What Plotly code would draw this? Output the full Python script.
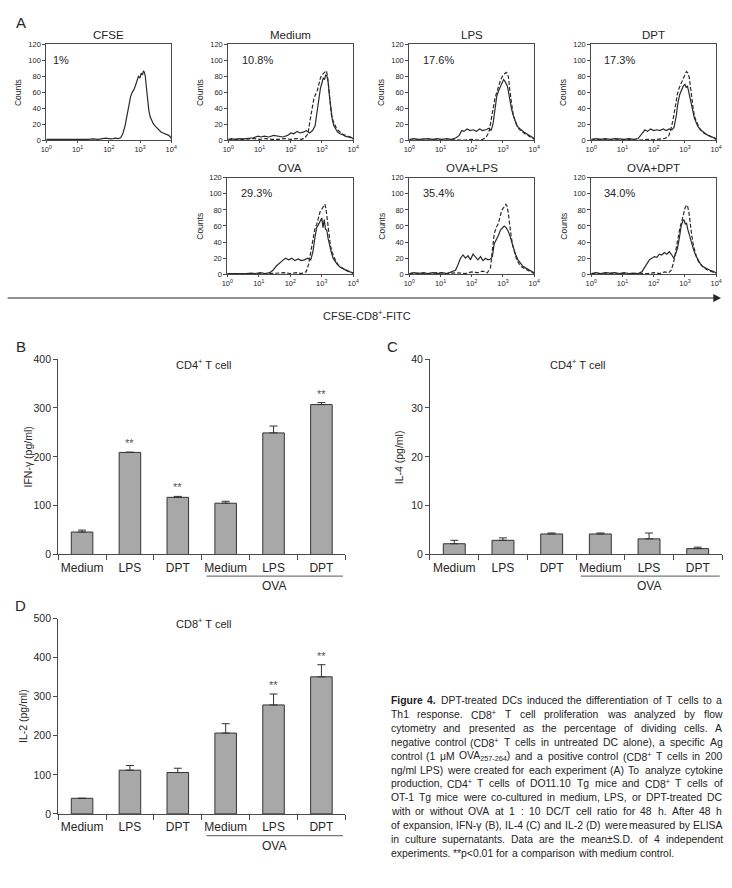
import re
import plotly.graph_objects as go

W, H = 732, 888
FONT = "Liberation Sans, Arial, Helvetica, sans-serif"
INK = "#262626"
AXC = "#4a4a4a"

# ---------------- Panel A: flow-cytometry histograms ----------------
# (log10 fluorescence, counts) pairs
CFSE_SOLID = [(0.00,1),(0.15,1),(0.30,1),(0.45,0.5),(0.60,1),(0.75,1),(0.90,0.5),(1.05,1),(1.20,1),(1.35,1),
              (1.50,1.5),(1.65,1),(1.80,2),(1.90,2.5),(2.00,2),(2.10,1.5),(2.20,2.5),(2.30,2),(2.38,3),(2.45,8),
              (2.52,18),(2.58,30),(2.64,40),(2.70,55),(2.75,60),(2.80,63),(2.85,68),(2.90,74),(2.95,80),(3.00,78),
              (3.04,84),(3.08,82),(3.11,87),(3.14,85),(3.17,80),(3.20,68),(3.24,52),(3.28,38),(3.32,30),(3.37,25),
              (3.42,21),(3.48,18),(3.55,15),(3.62,12),(3.68,10),(3.74,9),(3.80,8),(3.86,7),(3.92,6),(3.97,4),(4.00,2)]

MED_SOLID = [(0.00,1),(0.10,2),(0.20,1),(0.35,2),(0.50,1.5),(0.65,2),(0.80,3),(0.95,5),(1.05,4),(1.15,5),
             (1.30,4),(1.45,6),(1.60,5),(1.75,4),(1.90,6),(2.00,9),(2.10,8),(2.20,11),(2.30,9),(2.40,10),
             (2.50,12),(2.60,9),(2.70,12),(2.78,18),(2.84,35),(2.90,55),(2.95,65),(3.00,72),(3.04,78),(3.08,76),
             (3.12,82),(3.16,80),(3.20,72),(3.24,55),(3.28,38),(3.33,26),(3.38,18),(3.44,13),(3.50,10),(3.58,8),
             (3.66,7),(3.74,5),(3.82,4),(3.90,4),(3.96,3),(4.00,2)]
MED_DASH = [(0.00,0.5),(0.20,1),(0.40,0.5),(0.60,1),(0.80,2),(1.00,1),(1.20,2),(1.40,1),(1.60,1),(1.80,2),
            (2.00,1),(2.20,2),(2.35,1),(2.45,3),(2.55,8),(2.62,25),(2.68,40),(2.74,52),(2.80,58),(2.85,62),
            (2.90,70),(2.95,78),(3.00,82),(3.05,84),(3.10,86),(3.14,87),(3.18,80),(3.22,60),(3.26,42),(3.30,32),
            (3.35,25),(3.40,20),(3.46,15),(3.52,12),(3.60,9),(3.68,7),(3.76,6),(3.84,5),(3.92,3),(4.00,1)]

LPS_SOLID = [(0.00,1),(0.15,2),(0.30,1),(0.45,1.5),(0.60,2),(0.75,1),(0.90,2),(1.05,1),(1.20,2),(1.35,1),
             (1.50,3),(1.60,6),(1.68,12),(1.75,11),(1.85,14),(1.95,12),(2.05,13),(2.15,11),(2.25,14),(2.35,12),
             (2.45,13),(2.55,15),(2.62,12),(2.68,20),(2.74,40),(2.80,55),(2.86,62),(2.92,68),(2.97,72),(3.02,76),
             (3.06,74),(3.10,70),(3.14,68),(3.18,60),(3.22,50),(3.27,40),(3.32,32),(3.38,24),(3.45,18),(3.52,15),
             (3.60,12),(3.68,10),(3.76,8),(3.84,6),(3.92,4),(4.00,2)]
LPS_DASH = [(0.00,0),(0.30,0.5),(0.60,0),(0.90,0.5),(1.20,0),(1.50,0.5),(1.80,0),(2.00,1),(2.20,0),(2.35,1),
            (2.45,3),(2.55,10),(2.62,25),(2.68,40),(2.74,52),(2.80,60),(2.86,68),(2.92,75),(2.98,80),(3.04,82),
            (3.10,85),(3.14,84),(3.18,78),(3.22,62),(3.27,46),(3.32,34),(3.38,25),(3.45,18),(3.52,14),(3.60,11),
            (3.70,8),(3.80,6),(3.90,4),(4.00,1)]

DPT_SOLID = [(0.00,1),(0.15,2),(0.30,1),(0.45,2),(0.60,1),(0.75,2),(0.90,1.5),(1.05,1),(1.20,2),(1.35,1),
             (1.50,2),(1.58,6),(1.65,10),(1.72,13),(1.80,11),(1.90,14),(2.00,12),(2.10,13),(2.20,12),(2.30,14),
             (2.40,12),(2.50,14),(2.58,13),(2.65,16),(2.72,30),(2.78,48),(2.84,58),(2.90,64),(2.95,68),(3.00,70),
             (3.04,66),(3.08,68),(3.12,60),(3.16,52),(3.20,45),(3.25,36),(3.30,28),(3.36,22),(3.42,17),(3.50,13),
             (3.58,10),(3.66,8),(3.74,6),(3.82,5),(3.90,4),(4.00,2)]
DPT_DASH = [(0.00,0),(0.30,1),(0.60,0),(0.90,0.5),(1.20,1),(1.50,0),(1.80,1),(2.00,0.5),(2.20,1),(2.35,2),
            (2.48,5),(2.56,15),(2.63,28),(2.70,45),(2.76,58),(2.82,66),(2.88,72),(2.94,78),(3.00,82),(3.05,86),
            (3.10,84),(3.14,78),(3.18,64),(3.22,50),(3.27,38),(3.32,28),(3.38,22),(3.45,16),(3.52,12),(3.60,9),
            (3.70,7),(3.80,5),(3.90,3),(4.00,1)]

OVA_SOLID = [(0.00,1),(0.15,1),(0.30,0.5),(0.45,1),(0.60,1),(0.75,1.5),(0.90,1),(1.05,2),(1.20,1),(1.35,2),
             (1.45,5),(1.55,10),(1.65,14),(1.75,17),(1.85,20),(1.95,18),(2.05,20),(2.15,17),(2.25,19),(2.35,17),
             (2.45,18),(2.55,20),(2.65,18),(2.72,28),(2.78,45),(2.84,58),(2.90,62),(2.95,66),(3.00,70),(3.04,58),
             (3.08,68),(3.12,56),(3.16,55),(3.20,45),(3.25,35),(3.30,28),(3.36,20),(3.42,16),(3.50,12),(3.58,9),
             (3.66,7),(3.74,5),(3.82,4),(3.90,3),(4.00,2)]
OVA_DASH = [(0.00,0.5),(0.30,1),(0.60,0.5),(0.90,1),(1.20,0.5),(1.50,1),(1.80,2),(2.00,1),(2.20,2),(2.35,1),
            (2.50,3),(2.58,12),(2.65,28),(2.72,45),(2.78,56),(2.84,62),(2.90,70),(2.95,78),(3.00,81),(3.05,84),
            (3.10,87),(3.14,80),(3.18,66),(3.22,50),(3.27,38),(3.32,28),(3.38,22),(3.45,16),(3.52,12),(3.60,9),
            (3.70,7),(3.80,5),(3.90,3),(4.00,1)]

OVALPS_SOLID = [(0.00,1),(0.15,2),(0.30,1),(0.45,2),(0.60,1),(0.75,2),(0.90,1),(1.05,2),(1.20,1),(1.35,3),
                (1.48,5),(1.56,12),(1.64,20),(1.72,24),(1.80,20),(1.88,23),(1.96,18),(2.04,25),(2.12,21),(2.20,18),
                (2.28,22),(2.36,17),(2.44,20),(2.52,18),(2.60,19),(2.66,22),(2.72,38),(2.78,42),(2.85,48),(2.92,55),
                (2.98,58),(3.04,60),(3.10,58),(3.16,54),(3.22,48),(3.28,40),(3.34,32),(3.40,25),(3.48,18),(3.56,14),
                (3.64,10),(3.72,8),(3.80,6),(3.88,4),(3.95,3),(4.00,2)]
OVALPS_DASH = [(0.00,1),(0.30,1.5),(0.60,1),(0.90,2),(1.20,1),(1.50,2),(1.80,1),(2.00,3),(2.20,2),(2.35,4),
               (2.50,2),(2.60,8),(2.66,30),(2.72,50),(2.78,58),(2.84,62),(2.90,70),(2.95,78),(3.00,82),(3.05,84),
               (3.09,87),(3.13,85),(3.17,76),(3.21,62),(3.26,48),(3.31,36),(3.37,26),(3.44,18),(3.52,13),(3.60,9),
               (3.70,7),(3.80,5),(3.90,3),(4.00,1)]

OVADPT_SOLID = [(0.00,1),(0.15,2),(0.30,1),(0.45,2),(0.60,1.5),(0.75,2),(0.90,1),(1.05,2),(1.20,1),(1.35,1.5),
                (1.50,1),(1.62,3),(1.70,8),(1.78,14),(1.86,18),(1.94,20),(2.02,22),(2.10,21),(2.18,25),(2.26,24),
                (2.34,27),(2.42,25),(2.50,28),(2.58,24),(2.64,20),(2.70,25),(2.76,32),(2.82,45),(2.88,60),(2.93,66),
                (2.97,68),(3.01,62),(3.05,64),(3.09,56),(3.13,50),(3.18,42),(3.23,36),(3.28,30),(3.34,24),(3.40,19),
                (3.48,14),(3.56,10),(3.64,8),(3.72,6),(3.80,5),(3.88,4),(3.95,3),(4.00,2)]
OVADPT_DASH = [(0.00,1),(0.30,0.5),(0.60,1),(0.90,0.5),(1.20,1),(1.50,0.5),(1.80,1),(2.00,2),(2.20,1),(2.35,3),
               (2.48,2),(2.56,5),(2.64,15),(2.72,32),(2.78,48),(2.84,58),(2.90,66),(2.95,75),(3.00,82),(3.05,86),
               (3.09,84),(3.13,76),(3.17,62),(3.22,48),(3.27,36),(3.32,28),(3.38,20),(3.45,15),(3.52,11),(3.60,8),
               (3.70,6),(3.80,4),(3.90,3),(4.00,1)]

HIST_TITLES = ["CFSE", "Medium", "LPS", "DPT", "OVA", "OVA+LPS", "OVA+DPT"]
HIST_PCTS = ["1%", "10.8%", "17.6%", "17.3%", "29.3%", "35.4%", "34.0%"]
HIST_SOLID = [CFSE_SOLID, MED_SOLID, LPS_SOLID, DPT_SOLID, OVA_SOLID, OVALPS_SOLID, OVADPT_SOLID]
HIST_DASH = [None, MED_DASH, LPS_DASH, DPT_DASH, OVA_DASH, OVALPS_DASH, OVADPT_DASH]
HIST_XTICKS = [1, 10, 100, 1000, 10000]
HIST_XTEXT = ["10<sup>0</sup>", "10<sup>1</sup>", "10<sup>2</sup>", "10<sup>3</sup>", "10<sup>4</sup>"]
HIST_YTICKS = [0, 20, 40, 60, 80, 100, 120]

# ---------------- Panels B, C, D: bar charts ----------------
BAR_LABELS = ["Medium", "LPS", "DPT", "Medium", "LPS", "DPT"]
IFNG = [46, 209, 117, 105, 249, 307]
IFNG_ERR = [4, 0.5, 2, 4, 14, 4]
IFNG_SIG = [False, True, True, False, False, True]
IL4 = [2.2, 2.9, 4.2, 4.2, 3.2, 1.2]
IL4_ERR = [0.7, 0.5, 0.2, 0.2, 1.2, 0.3]
IL4_SIG = [False] * 6
IL2 = [40, 112, 106, 207, 279, 351]
IL2_ERR = [0, 12, 11, 24, 28, 31]
IL2_SIG = [False, False, False, False, True, True]

CAPTION = [
    "<b>Figure</b> <b>4.</b> DPT-treated DCs induced the differentiation of T cells to a",
    "Th1 response. CD8<sup>+</sup> T cell proliferation was analyzed by flow",
    "cytometry and presented as the percentage of dividing cells. A",
    "negative control (CD8<sup>+</sup> T cells in untreated DC alone), a specific Ag",
    "control (1 μM OVA<sub>257-264</sub>) and a positive control (CD8<sup>+</sup> T cells in 200",
    "ng/ml LPS) were created for each experiment (A) To analyze cytokine",
    "production, CD4<sup>+</sup> T cells of DO11.10 Tg mice and CD8<sup>+</sup> T cells of",
    "OT-1 Tg mice were co-cultured in medium, LPS, or DPT-treated DC",
    "with or without OVA at 1 : 10 DC/T cell ratio for 48 h. After 48 h",
    "of expansion, IFN-γ (B), IL-4 (C) and IL-2 (D) were measured by ELISA",
    "in culture supernatants. Data are the mean±S.D. of 4 independent",
    "experiments. **p&lt;0.01 for a comparison with medium control.",
]


def PX(x):
    return x / W


def PY(y):
    return 1 - y / H


fig = go.Figure()
layout = dict(width=W, height=H, margin=dict(l=0, r=0, t=0, b=0),
              paper_bgcolor="white", plot_bgcolor="white", showlegend=False,
              font=dict(family=FONT, color=INK))
ann = []
shapes = []


def note(**kw):
    kw.setdefault("xanchor", "center")
    kw.setdefault("yanchor", "middle")
    kw.setdefault("showarrow", False)
    ann.append(kw)


HIST_BOX = [(41, 168, 39, 136), (226, 353, 39, 136), (410, 537, 39, 136), (595, 722, 39, 136),
            (225, 353, 174, 272), (410, 537, 174, 272), (595, 722, 174, 272)]


def ax_names(k):
    return ("xaxis" if k == 1 else f"xaxis{k}", "yaxis" if k == 1 else f"yaxis{k}",
            "x" if k == 1 else f"x{k}", "y" if k == 1 else f"y{k}")

for i in range(7):
    k = i + 1
    xa, ya, xr, yr = ax_names(k)
    x0, x1, y0, y1 = HIST_BOX[i]
    for data, dash in ((HIST_DASH[i], "4px,2px"), (HIST_SOLID[i], "solid")):
        if data is None:
            continue
        fig.add_trace(go.Scatter(x=[10 ** v for v, _ in data], y=[c for _, c in data],
                                 mode="lines", xaxis=xr, yaxis=yr, hoverinfo="skip",
                                 line=dict(color="#2a2a2a", width=1.2, dash=dash)))
    layout[xa] = dict(type="log", range=[0, 4], domain=[PX(x0), PX(x1)], anchor=yr,
                      showline=True, mirror=True, linecolor=AXC, linewidth=1,
                      ticks="outside", ticklen=2, tickcolor=AXC, tickvals=HIST_XTICKS,
                      ticktext=HIST_XTEXT, tickfont=dict(size=7.5), showgrid=False, zeroline=False)
    layout[ya] = dict(range=[0, 120], domain=[PY(y1), PY(y0)], anchor=xr,
                      showline=True, mirror=True, linecolor=AXC, linewidth=1,
                      ticks="outside", ticklen=3, tickcolor=AXC, tickvals=HIST_YTICKS,
                      tickfont=dict(size=7.5), showgrid=False, zeroline=False)
    note(text=HIST_TITLES[i], xref=f"{xr} domain", x=0.5, yref="paper", y=PY(y0 - 10),
         font=dict(size=11.5))
    note(text=HIST_PCTS[i], xref=f"{xr} domain", x=0.04 if i == 0 else 0.09, xanchor="left",
         yref=yr, y=101, font=dict(size=11))
    note(text="Counts", xref="paper", x=PX(x0 - 28), yref="paper", y=PY((y0 + y1) / 2),
         textangle=-90, font=dict(size=8.5))

# Axis arrow and label for panel A
ann.append(dict(text="", x=PX(727), y=PY(296), xref="paper", yref="paper", ax=-715, ay=0,
                axref="pixel", ayref="pixel", showarrow=True, arrowhead=2, arrowsize=1.3,
                arrowwidth=1.2, arrowcolor=INK))
note(text="CFSE-CD8<sup>+</sup>-FITC", x=PX(367), y=PY(313), xref="paper", yref="paper",
     font=dict(size=11))

# Bar panels
BARS = [
    (8, IFNG, IFNG_ERR, IFNG_SIG, 400, 100, (53, 345, 358, 556), "IFN-γ (pg/ml)", 22,
     "CD4<sup>+</sup> T cell", "B", 363),
    (9, IL4, IL4_ERR, IL4_SIG, 40, 10, (431, 728, 358, 556), "IL-4 (pg/ml)", 399,
     "CD4<sup>+</sup> T cell", "C", 363),
    (10, IL2, IL2_ERR, IL2_SIG, 500, 100, (53, 345, 621, 819), "IL-2 (pg/ml)", 18,
     "CD8<sup>+</sup> T cell", "D", 625),
]
LETTER_POS = {"B": (15, 345), "C": (393, 345), "D": (15, 608)}
for k, vals, errs, sig, ymax, dy, box, ytitle, ytx, title, letter, title_y in BARS:
    xa, ya, xr, yr = ax_names(k)
    x0, x1, y0, y1 = box
    xs = list(range(len(vals)))
    fig.add_trace(go.Bar(x=xs, y=vals, width=0.45, xaxis=xr, yaxis=yr, hoverinfo="skip",
                         marker=dict(color="#a8a8a8", line=dict(color="#333333", width=1)),
                         error_y=dict(type="data", symmetric=False, array=errs,
                                      arrayminus=[0] * len(vals), color="#333333",
                                      thickness=1, width=4)))
    layout[xa] = dict(range=[-0.5, 5.5], domain=[PX(x0), PX(x1)], anchor=yr,
                      showline=True, linecolor=AXC, linewidth=1, tickmode="array",
                      tickvals=xs, ticktext=BAR_LABELS, ticks="", tickfont=dict(size=12),
                      ticklabelstandoff=2, showgrid=False, zeroline=False,
                      minor=dict(tickmode="array", tickvals=[v - 0.5 for v in xs] + [5.5],
                                 ticks="outside", ticklen=5, tickcolor=AXC, tickwidth=1,
                                 showgrid=False))
    layout[ya] = dict(range=[0, ymax], domain=[PY(y1), PY(y0)], anchor=xr,
                      showline=True, linecolor=AXC, linewidth=1, ticks="outside", ticklen=4,
                      tickcolor=AXC, dtick=dy, tick0=0, tickfont=dict(size=10.5),
                      showgrid=False, zeroline=False)
    for j, s in enumerate(sig):
        if s:
            note(text="**", x=j, y=vals[j] + errs[j], xref=xr, yref=yr,
                 yanchor="bottom", yshift=1, font=dict(size=11, color="#555555"))
    shapes.append(dict(type="line", xref=xr, yref="paper", x0=2.6, x1=5.45,
                       y0=PY(y1 + 22), y1=PY(y1 + 22), line=dict(color="#7a7a7a", width=1.2)))
    note(text="OVA", x=4, y=PY(y1 + 32), xref=xr, yref="paper", font=dict(size=12))
    note(text=title, x=PX((x0 + x1) / 2 + 2), y=PY(title_y), xref="paper", yref="paper",
         font=dict(size=11))
    note(text=ytitle, x=PX(ytx), y=PY((y0 + y1) / 2), xref="paper", yref="paper",
         textangle=-90, font=dict(size=10.5))
    lx, ly = LETTER_POS[letter]
    note(text=letter, x=PX(lx), y=PY(ly), xref="paper", yref="paper", font=dict(size=15))

note(text="A", x=PX(15), y=PY(17), xref="paper", yref="paper", font=dict(size=15))

# ---------------- Caption (justified, word by word) ----------------
AW = {' ': 278, 'a': 556, 'b': 556, 'c': 500, 'd': 556, 'e': 556, 'f': 278, 'g': 556, 'h': 556,
      'i': 222, 'j': 222, 'k': 500, 'l': 222, 'm': 833, 'n': 556, 'o': 556, 'p': 556, 'q': 556,
      'r': 333, 's': 500, 't': 278, 'u': 556, 'v': 500, 'w': 722, 'x': 500, 'y': 500, 'z': 500,
      'A': 667, 'B': 667, 'C': 722, 'D': 722, 'E': 667, 'F': 611, 'G': 778, 'H': 722, 'I': 278,
      'J': 500, 'K': 667, 'L': 556, 'M': 833, 'N': 722, 'O': 778, 'P': 667, 'Q': 778, 'R': 722,
      'S': 667, 'T': 611, 'U': 722, 'V': 667, 'W': 944, 'X': 667, 'Y': 667, 'Z': 611,
      '.': 278, ',': 278, '(': 333, ')': 333, '-': 333, '/': 278, ':': 278, '+': 584, '<': 584,
      '±': 584, '*': 389, 'μ': 576, 'γ': 500, '%': 889}


def text_width(s, size):
    total = 0.0
    scale = 1.0
    bold = False
    for tok in re.split(r"(<[^>]+>)", s):
        if tok.startswith("<"):
            t = tok.lower()
            if t in ("<sup>", "<sub>"):
                scale = 0.7
            elif t in ("</sup>", "</sub>"):
                scale = 1.0
            elif t == "<b>":
                bold = True
            elif t == "</b>":
                bold = False
            continue
        tok = tok.replace("&lt;", "<")
        for ch in tok:
            w = AW.get(ch, 556)
            if bold:
                w *= 1.08
            total += w * scale
    return total * size / 1000.0


CAP_SIZE = 10.4
CAP_LEFT, CAP_RIGHT = 390, 727
CAP_TOP, CAP_LEAD = 704, 14.1
for li, line in enumerate(CAPTION):
    words = line.split(" ")
    widths = [text_width(w, CAP_SIZE) for w in words]
    last = li == len(CAPTION) - 1
    if last or len(words) == 1:
        gap = AW[' '] * CAP_SIZE / 1000.0 * 1.3
    else:
        gap = (CAP_RIGHT - CAP_LEFT - sum(widths)) / (len(words) - 1)
    xpos = CAP_LEFT
    yline = CAP_TOP + li * CAP_LEAD
    for w, wd in zip(words, widths):
        note(text=w, x=PX(xpos), y=PY(yline), xref="paper", yref="paper",
             xanchor="left", yanchor="middle", borderpad=0,
             font=dict(size=CAP_SIZE, color="#222222"))
        xpos += wd + gap

layout["annotations"] = ann
layout["shapes"] = shapes
fig.update_layout(**layout)
fig.write_html("out.html")
